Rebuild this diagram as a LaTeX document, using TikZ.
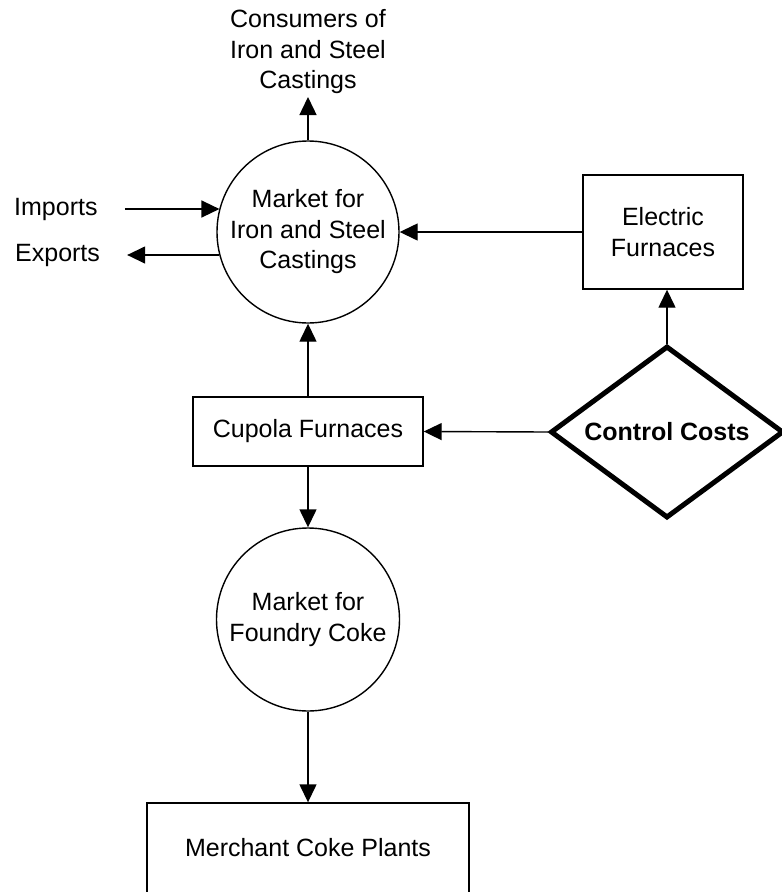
\documentclass[tikz,border=0pt]{standalone}
\usepackage{fontspec}
\setmainfont{Liberation Sans}
\usetikzlibrary{shapes.geometric,arrows.meta}
\begin{document}
\begin{tikzpicture}[x=1pt,y=-1pt,
  every node/.style={font=\fontsize{25}{30.5}\selectfont},
  conn/.style={line width=1.4pt,-{Triangle[length=18pt,width=17pt]}},
  boxnode/.style={draw,line width=1.4pt,rectangle,align=center,inner sep=0pt},
  circnode/.style={draw,line width=1.4pt,circle,align=center,inner sep=0pt,minimum size=#1},
  lbl/.style={align=center,inner sep=0pt}
]
\useasboundingbox (0,0) rectangle (782,892);

\node[lbl,anchor=south,outer sep=3pt] (cons) at (308,97) {Consumers of\\Iron and Steel\\Castings};
\node[circnode=182] (mkt1) at (308,232) {Market for\\Iron and Steel\\Castings};
\node[lbl,anchor=west] (imp) at (14,209) {Imports};
\node[lbl,anchor=west] (exp) at (15,255) {Exports};
\node[boxnode,minimum width=160pt,minimum height=114pt] (elec) at (663,232) {Electric\\Furnaces};
\node[draw,diamond,line width=5pt,inner sep=0pt,aspect=1.34,minimum width=233pt,minimum height=172pt,font=\fontsize{25}{30}\selectfont\bfseries] (dia) at (667,432) {Control Costs};
\node[boxnode,minimum width=230pt,minimum height=69pt] (cup) at (308,431.5) {Cupola Furnaces};
\node[circnode=183] (mkt2) at (308,619.5) {Market for\\Foundry Coke};
\node[boxnode,minimum width=322pt,minimum height=90pt] (mer) at (308,848) {Merchant Coke Plants};

\draw[conn] (mkt1.north) -- (cons.south);
\draw[conn] ([xshift=27pt]imp.east) -- (imp.east -| mkt1.165);
\draw[conn] (exp.east -| mkt1.195) -- ([xshift=27pt]exp.east);
\draw[conn] (elec.west) -- (mkt1.east);
\draw[conn] (cup.north) -- (mkt1.south);
\draw[conn] (dia.west) -- (cup.east);
\draw[conn] (dia.north) -- (dia.north |- elec.south);
\draw[conn] (cup.south) -- (mkt2.north);
\draw[conn] (mkt2.south) -- (mer.north);
\end{tikzpicture}
\end{document}
